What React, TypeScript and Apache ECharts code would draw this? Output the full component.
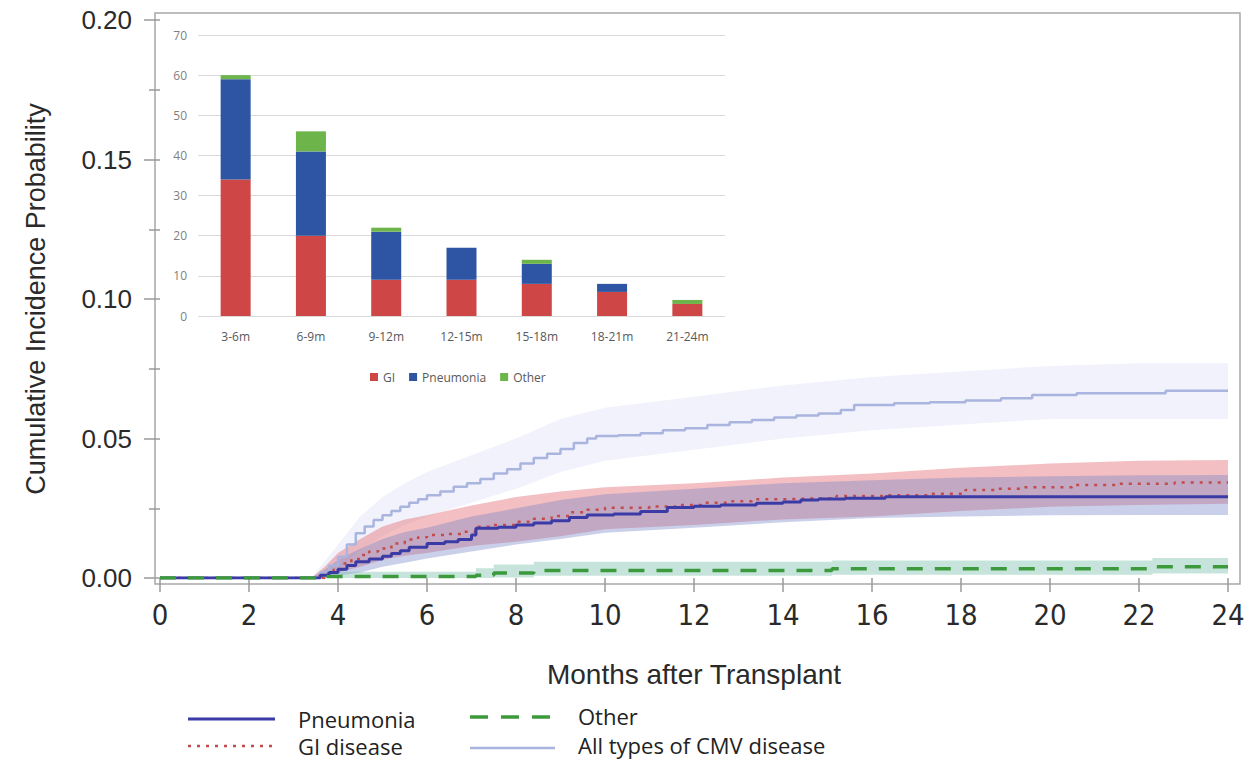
import { useEffect, useRef } from "react";
import * as echarts from "echarts";

// ---------- Main cumulative incidence data (months, probability) ----------
const cmvMonths = [0, 3.4, 3.6, 3.8, 4.0, 4.2, 4.4, 4.6, 4.8, 5.0, 5.2, 5.4, 5.6, 5.8, 6.0, 6.3, 6.6, 6.9, 7.2, 7.5, 7.8, 8.1, 8.4, 8.7, 9.0, 9.3, 9.6, 9.8, 10.3, 10.8, 11.3, 11.8, 12.3, 12.8, 13.3, 13.8, 14.3, 14.8, 15.3, 15.6, 16.5, 17.3, 18.1, 18.9, 19.6, 20.6, 22.6, 24];
const cmvValues = [0, 0, 0.002, 0.0045, 0.0076, 0.012, 0.016, 0.0185, 0.0208, 0.0225, 0.024, 0.0255, 0.027, 0.0282, 0.0297, 0.031, 0.0327, 0.034, 0.0355, 0.0375, 0.039, 0.041, 0.043, 0.0445, 0.0462, 0.0484, 0.05, 0.0509, 0.0512, 0.0519, 0.053, 0.0537, 0.0548, 0.0558, 0.0566, 0.0575, 0.0582, 0.059, 0.0602, 0.062, 0.0626, 0.063, 0.0636, 0.0644, 0.0656, 0.0662, 0.0671, 0.0671];

const pneuMonths = [0, 3.4, 3.6, 3.8, 4.0, 4.2, 4.4, 4.7, 5.0, 5.2, 5.4, 5.6, 6.0, 6.4, 6.7, 7.0, 7.1, 7.6, 8.0, 8.4, 8.8, 9.2, 9.6, 10.2, 10.8, 11.4, 12.0, 12.6, 13.4, 14.0, 14.4, 14.8, 15.4, 16.3, 24];
const pneuValues = [0, 0, 0.001, 0.002, 0.0031, 0.0045, 0.0058, 0.0068, 0.0078, 0.0088, 0.0098, 0.011, 0.0124, 0.013, 0.0138, 0.0154, 0.0178, 0.0182, 0.019, 0.0197, 0.0205, 0.0217, 0.0226, 0.0229, 0.0238, 0.0253, 0.0257, 0.0262, 0.0268, 0.0272, 0.028, 0.0283, 0.0286, 0.0291, 0.0291];

const giMonths = [0, 3.5, 3.7, 3.9, 4.1, 4.3, 4.5, 4.7, 4.9, 5.2, 5.5, 5.8, 6.0, 6.4, 6.8, 7.1, 7.5, 8.0, 8.4, 8.8, 9.2, 9.6, 10.0, 11.0, 11.6, 12.2, 12.8, 13.3, 14.0, 14.4, 15.2, 16.3, 17.3, 18.1, 18.8, 19.4, 20.5, 21.5, 22.8, 24];
const giValues = [0, 0, 0.0015, 0.003, 0.0052, 0.0068, 0.0082, 0.0095, 0.0106, 0.0124, 0.0138, 0.0146, 0.0154, 0.0158, 0.0166, 0.0184, 0.019, 0.0202, 0.0212, 0.0222, 0.0236, 0.0245, 0.0252, 0.0256, 0.0262, 0.027, 0.0275, 0.0282, 0.0284, 0.0286, 0.0294, 0.0297, 0.0302, 0.0315, 0.032, 0.0325, 0.0333, 0.0338, 0.0342, 0.0342];

const otherMonths = [0, 3.6, 7.1, 7.5, 8.4, 15.1, 22.3, 24];
const otherValues = [0, 0.0005, 0.001, 0.0018, 0.0027, 0.0033, 0.004, 0.004];

// ---------- Confidence bands ----------
const bandMonths = [3.4, 3.7, 4, 4.5, 5, 5.5, 6, 7, 8, 9, 10, 12, 14, 16, 18, 20, 22, 24];
const cmvLower = [0, 0.001, 0.003, 0.01, 0.015, 0.019, 0.022, 0.027, 0.032, 0.038, 0.042, 0.046, 0.05, 0.053, 0.055, 0.057, 0.057, 0.057];
const cmvUpper = [0, 0.006, 0.012, 0.022, 0.029, 0.034, 0.038, 0.044, 0.05, 0.057, 0.061, 0.065, 0.069, 0.072, 0.074, 0.076, 0.077, 0.077];
const giLower = [0, 0.0005, 0.002, 0.004, 0.0065, 0.008, 0.009, 0.0115, 0.013, 0.015, 0.0175, 0.019, 0.021, 0.022, 0.024, 0.0255, 0.0262, 0.0266];
const giUpper = [0, 0.004, 0.009, 0.014, 0.0185, 0.021, 0.0225, 0.026, 0.029, 0.031, 0.0325, 0.034, 0.036, 0.0375, 0.0395, 0.041, 0.042, 0.0423];
const pneuLower = [0, 0, 0.0008, 0.002, 0.004, 0.0055, 0.007, 0.0095, 0.012, 0.014, 0.0162, 0.018, 0.02, 0.0215, 0.022, 0.0225, 0.0226, 0.0226];
const pneuUpper = [0, 0.003, 0.0065, 0.0105, 0.014, 0.0165, 0.018, 0.022, 0.025, 0.028, 0.03, 0.032, 0.034, 0.035, 0.036, 0.0365, 0.0368, 0.0369];

const otherBandMonths = [3.6, 7.1, 7.5, 8.4, 15.1, 22.3, 24];
const otherLower = [0, 0, 0.0002, 0.0008, 0.0012, 0.0016, 0.0016];
const otherUpper = [0.0022, 0.0035, 0.0048, 0.0058, 0.0063, 0.0072, 0.0072];

// ---------- Inset bar chart ----------
const insetCategories = ["3-6m", "6-9m", "9-12m", "12-15m", "15-18m", "18-21m", "21-24m"];
const insetGI = [34, 20, 9, 9, 8, 6, 3];
const insetPneumonia = [25, 21, 12, 8, 5, 2, 0];
const insetOther = [1, 5, 1, 0, 1, 0, 1];

const C_PNEU = "#3b3ba6";
const C_GI = "#c24a4a";
const C_OTHER = "#3c9a3c";
const C_CMV = "#a9b5de";

const ARIAL = "'Liberation Sans', Arial, sans-serif";
const NARROW = "'Liberation Sans Narrow', 'DejaVu Sans Condensed', 'Liberation Sans', sans-serif";
const CAL = "'Open Sans', 'Noto Sans', sans-serif";

function pairs(xs: number[], ys: number[]) {
  return xs.map((x, i) => [x, ys[i]]);
}

function band(name: string, months: number[], lower: number[], upper: number[], fill: string, step: boolean, z: number) {
  return {
    type: "custom",
    name,
    xAxisIndex: 0,
    yAxisIndex: 0,
    silent: true,
    z,
    data: [[months[0], lower[0]]],
    renderItem: (_params: any, api: any) => {
      const pts: number[][] = [];
      for (let i = 0; i < months.length; i++) {
        if (step && i > 0) pts.push(api.coord([months[i], upper[i - 1]]));
        pts.push(api.coord([months[i], upper[i]]));
      }
      for (let i = months.length - 1; i >= 0; i--) {
        pts.push(api.coord([months[i], lower[i]]));
        if (step && i > 0) pts.push(api.coord([months[i], lower[i - 1]]));
      }
      return { type: "polygon", shape: { points: pts }, style: { fill } };
    },
  };
}

function stepLine(name: string, xs: number[], ys: number[], color: string, width: number, type: any, z: number) {
  return {
    type: "line",
    name,
    xAxisIndex: 0,
    yAxisIndex: 0,
    step: "end",
    showSymbol: false,
    symbol: "none",
    z,
    lineStyle: { color, width, type, cap: "butt" },
    data: pairs(xs, ys),
  };
}

export default function App() {
  const ref = useRef<HTMLDivElement>(null);
  useEffect(() => {
    if (!ref.current) return;
    const chart = echarts.init(ref.current, undefined, { renderer: "svg" });
    const option: any = {
      animation: false,
      backgroundColor: "#ffffff",
      grid: [
        { left: 160, right: 27, top: 20, bottom: 186 },
        { left: 198, right: 530, top: 35, bottom: 448 },
      ],
      xAxis: [
        {
          gridIndex: 0,
          type: "value",
          min: 0,
          max: 24,
          interval: 2,
          offset: 6,
          axisLine: { show: false },
          axisTick: { show: true, length: 14, lineStyle: { color: "#9a9a9a", width: 1.5 } },
          splitLine: { show: false },
          axisLabel: { fontSize: 29, fontFamily: NARROW, color: "#2a2a2a", margin: 16 },
          name: "Months after Transplant",
          nameLocation: "middle",
          nameGap: 76,
          nameTextStyle: { fontSize: 28, fontFamily: ARIAL, color: "#2a2a2a" },
        },
        {
          gridIndex: 1,
          type: "category",
          data: insetCategories,
          axisLine: { show: false },
          axisTick: { show: false },
          axisLabel: { fontSize: 12, fontFamily: CAL, color: "#595959", margin: 14 },
        },
      ],
      yAxis: [
        {
          gridIndex: 0,
          type: "value",
          min: 0,
          max: 0.2,
          interval: 0.05,
          offset: 5,
          axisLine: { show: false },
          axisTick: { show: true, length: 16, lineStyle: { color: "#9a9a9a", width: 1.5 } },
          minorTick: { show: true, splitNumber: 2, length: 11, lineStyle: { color: "#9a9a9a", width: 1.5 } },
          splitLine: { show: false },
          axisLabel: { fontSize: 26, fontFamily: ARIAL, color: "#2a2a2a", margin: 23, formatter: (v: number) => v.toFixed(2) },
          name: "Cumulative Incidence Probability",
          nameLocation: "middle",
          nameGap: 106,
          nameTextStyle: { fontSize: 27, fontFamily: ARIAL, color: "#2a2a2a" },
        },
        {
          gridIndex: 1,
          type: "value",
          min: 0,
          max: 70,
          interval: 10,
          axisLine: { show: false },
          axisTick: { show: false },
          splitLine: { show: true, lineStyle: { color: "#d9d9d9", width: 1 } },
          axisLabel: { fontSize: 12, fontFamily: CAL, color: "#7f7f7f", margin: 11 },
        },
      ],
      legend: {
        data: ["GI", "Pneumonia", "Other"],
        left: 365,
        top: 366,
        icon: "rect",
        itemWidth: 8,
        itemHeight: 8,
        itemGap: 14,
        textStyle: { fontSize: 12, fontFamily: CAL, color: "#595959" },
        selectedMode: false,
      },
      graphic: [
        { type: "rect", shape: { x: 155, y: 13, width: 1085, height: 571 }, style: { fill: "none", stroke: "#a8a8a8", lineWidth: 1.5 }, z: 0, silent: true },
        { type: "line", shape: { x1: 188, y1: 719, x2: 275, y2: 719 }, style: { stroke: C_PNEU, lineWidth: 3 } },
        { type: "line", shape: { x1: 188, y1: 746, x2: 275, y2: 746 }, style: { stroke: C_GI, lineWidth: 2.5, lineDash: [3, 6] } },
        { type: "line", shape: { x1: 470, y1: 717, x2: 555, y2: 717 }, style: { stroke: C_OTHER, lineWidth: 3.5, lineDash: [18, 13] } },
        { type: "line", shape: { x1: 470, y1: 748, x2: 555, y2: 748 }, style: { stroke: C_CMV, lineWidth: 2.5 } },
        { type: "text", x: 298, y: 719, style: { text: "Pneumonia", fontSize: 22, fontFamily: CAL, fill: "#222", verticalAlign: "middle" } },
        { type: "text", x: 298, y: 746, style: { text: "GI disease", fontSize: 22, fontFamily: CAL, fill: "#222", verticalAlign: "middle" } },
        { type: "text", x: 578, y: 716, style: { text: "Other", fontSize: 22, fontFamily: CAL, fill: "#222", verticalAlign: "middle" } },
        { type: "text", x: 578, y: 745, style: { text: "All types of CMV disease", fontSize: 22, fontFamily: CAL, fill: "#222", verticalAlign: "middle" } },
      ],
      series: [
        band("CMV band", bandMonths, cmvLower, cmvUpper, "#f1f2fb", false, 1),
        band("GI band", bandMonths, giLower, giUpper, "rgba(228,112,120,0.45)", false, 2),
        band("Pneumonia band", bandMonths, pneuLower, pneuUpper, "rgba(118,132,200,0.38)", false, 3),
        band("Other band", otherBandMonths, otherLower, otherUpper, "rgba(118,190,170,0.42)", true, 4),
        stepLine("All types of CMV disease", cmvMonths, cmvValues, C_CMV, 2.5, "solid", 10),
        stepLine("GI disease", giMonths, giValues, C_GI, 2.5, [3, 6], 11),
        stepLine("Pneumonia (CIF)", pneuMonths, pneuValues, C_PNEU, 3, "solid", 12),
        stepLine("Other (CIF)", otherMonths, otherValues, C_OTHER, 3.5, [16, 12], 13),
        { type: "bar", name: "GI", xAxisIndex: 1, yAxisIndex: 1, stack: "inset", barWidth: 30, itemStyle: { color: "#cf4646" }, data: insetGI, z: 5 },
        { type: "bar", name: "Pneumonia", xAxisIndex: 1, yAxisIndex: 1, stack: "inset", barWidth: 30, itemStyle: { color: "#2d55a3" }, data: insetPneumonia, z: 5 },
        { type: "bar", name: "Other", xAxisIndex: 1, yAxisIndex: 1, stack: "inset", barWidth: 30, itemStyle: { color: "#6db44b" }, data: insetOther, z: 5 },
      ],
    };
    chart.setOption(option);
    return () => chart.dispose();
  }, []);
  return (
    <div
      ref={ref}
      style={{ position: "fixed", left: 0, top: 0, width: 1255, height: 764, background: "#fff" }}
    />
  );
}
